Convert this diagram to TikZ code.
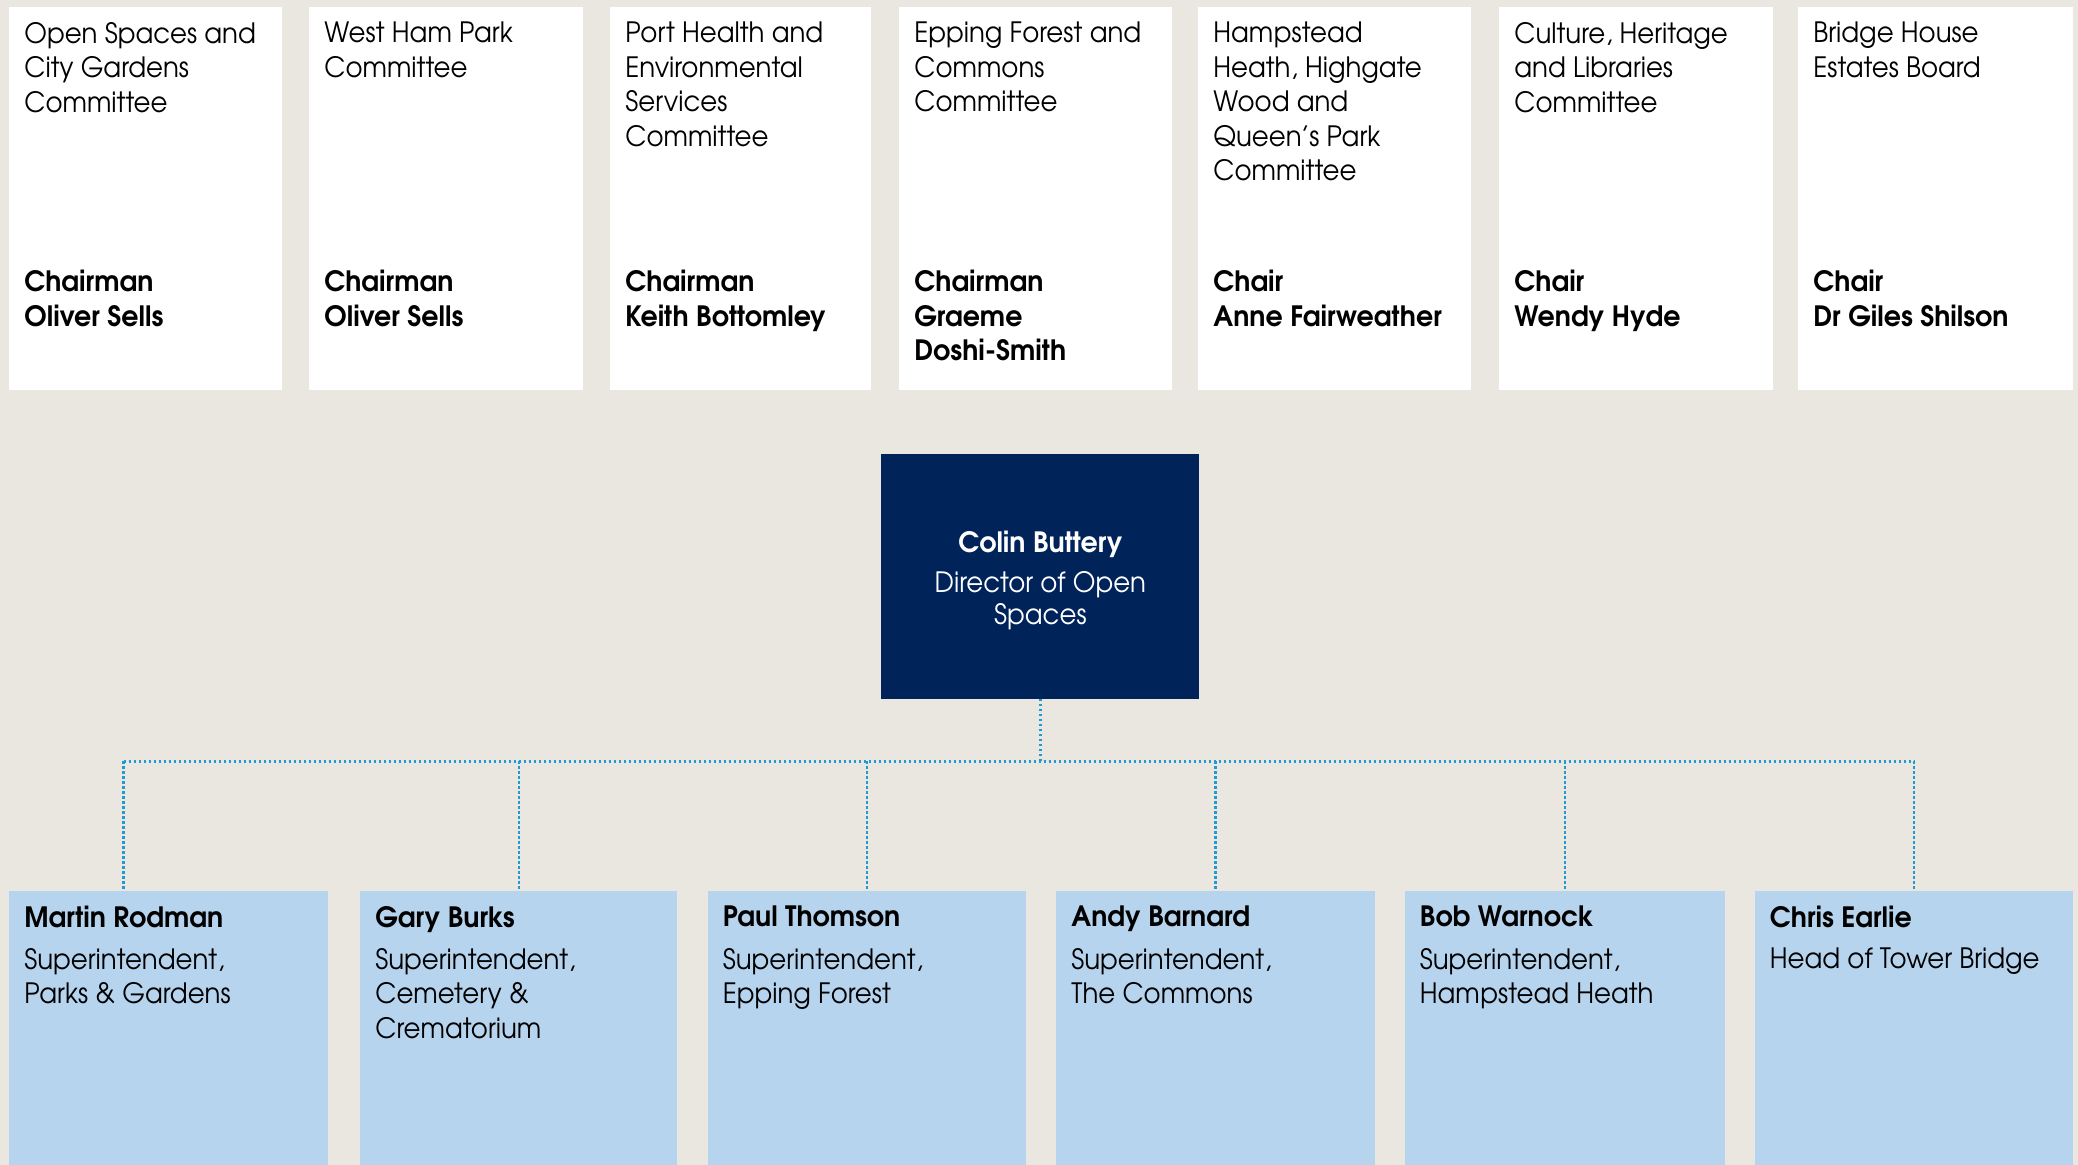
\documentclass[tikz,border=0pt]{standalone}
\usepackage{fontspec}
\setmainfont{texgyreadventor}[Extension=.otf, UprightFont=*-regular, BoldFont=*-bold, ItalicFont=*-italic, BoldItalicFont=*-bolditalic, UprightFeatures={FakeStretch=0.93}, BoldFeatures={FakeStretch=0.96}]
\definecolor{bg}{HTML}{EAE6E0}
\definecolor{navy}{HTML}{00235A}
\definecolor{lblue}{HTML}{B7D4EE}
\definecolor{dotc}{HTML}{1E9AD6}
\tikzset{
  topbox/.style={draw=none, fill=white, inner sep=0pt, rectangle},
  botbox/.style={draw=none, fill=lblue, inner sep=0pt, rectangle},
  dirbox/.style={draw=none, fill=navy, inner sep=0pt, rectangle},
  ttl/.style={inner sep=0pt, align=left, text=black, font=\fontsize{14}{17.25}\selectfont},
  bld/.style={inner sep=0pt, align=left, text=black, font=\fontsize{14}{17.25}\selectfont\bfseries},
  conn/.style={draw=dotc, line width=1.2pt, dash pattern=on 1.2pt off 1.3pt},
}
\newcommand\topbx[6]{%
  \node[topbox, minimum width={(#3-#2)*0.5pt}, minimum height=191.5pt, anchor=north west] (#1) at (#2,6.6) {};
  \node[ttl, anchor=north west] (#1t) at ([shift={(15,15)}]#1.north west) {#4};
  \node[bld, anchor=north west] (#1p) at ([shift={(15,263.5)}]#1.north west) {#5\\#6};
}
\newcommand\botbx[5]{%
  \node[botbox, minimum width={(#3-#2)*0.5pt}, minimum height={(1165-890.6)*0.5pt}, anchor=north west] (#1) at (#2,890.6) {};
  \node[bld, anchor=north west] (#1p) at ([shift={(15,15)}]#1.north west) {#4};
  \node[ttl, anchor=north west] (#1t) at ([shift={(15,57)}]#1.north west) {#5};
}
\begin{document}
\begin{tikzpicture}[x=0.5pt,y=-0.5pt]
\path[fill=bg] (0,0) rectangle (2078,1165);
\useasboundingbox (0,0) rectangle (2078,1165);
\topbx{t1}{9}{282}{Open Spaces and\\City Gardens\\Committee}{Chairman}{Oliver Sells}
\topbx{t2}{309}{583}{West Ham Park\\Committee}{Chairman}{Oliver Sells}
\topbx{t3}{610}{871}{Port Health and\\Environmental\\Services\\Committee}{Chairman}{Keith Bottomley}
\topbx{t4}{899}{1172}{Epping Forest and\\Commons\\Committee}{Chairman}{Graeme\\Doshi-Smith}
\topbx{t5}{1198}{1471}{Hampstead\\Heath, Highgate\\Wood and\\Queen’s Park\\Committee}{Chair}{Anne Fairweather}
\topbx{t6}{1499}{1773}{Culture, Heritage\\and Libraries\\Committee}{Chair}{Wendy Hyde}
\topbx{t7}{1798}{2073}{Bridge House\\Estates Board}{Chair}{Dr Giles Shilson}

\node[dirbox, minimum width=159pt, minimum height=122.5pt, anchor=north west] (dir) at (881,453.2) {};
\node[inner sep=0pt, align=center, text=white, font=\fontsize{14}{16}\selectfont, anchor=north] (dirt) at ([shift={(0,77)}]dir.north)
  {\textbf{Colin Buttery}\\[4.2pt]Director of Open\\Spaces};

\botbx{b1}{9}{327.5}{Martin Rodman}{Superintendent,\\Parks \& Gardens}
\botbx{b2}{360}{677}{Gary Burks}{Superintendent,\\Cemetery \&\\Crematorium}
\botbx{b3}{707.5}{1026}{Paul Thomson}{Superintendent,\\Epping Forest}
\botbx{b4}{1056}{1374.5}{Andy Barnard}{Superintendent,\\The Commons}
\botbx{b5}{1404.5}{1725}{Bob Warnock}{Superintendent,\\Hampstead Heath}
\botbx{b6}{1754.5}{2073}{Chris Earlie}{Head of Tower Bridge}

\draw[conn] (dir.south) -- ++(0,62.3) coordinate (bus);
\draw[conn] ([shift={(-45,0)}]b1.north |- bus) -- (b6.north |- bus);
\draw[conn] ([shift={(-45,0)}]b1.north |- bus) -- ([shift={(-45,0)}]b1.north);
\draw[conn] (b2.north |- bus) -- (b2.north);
\draw[conn] (b3.north |- bus) -- (b3.north);
\draw[conn] (b4.north |- bus) -- (b4.north);
\draw[conn] (b5.north |- bus) -- (b5.north);
\draw[conn] (b6.north |- bus) -- (b6.north);
\end{tikzpicture}
\end{document}
